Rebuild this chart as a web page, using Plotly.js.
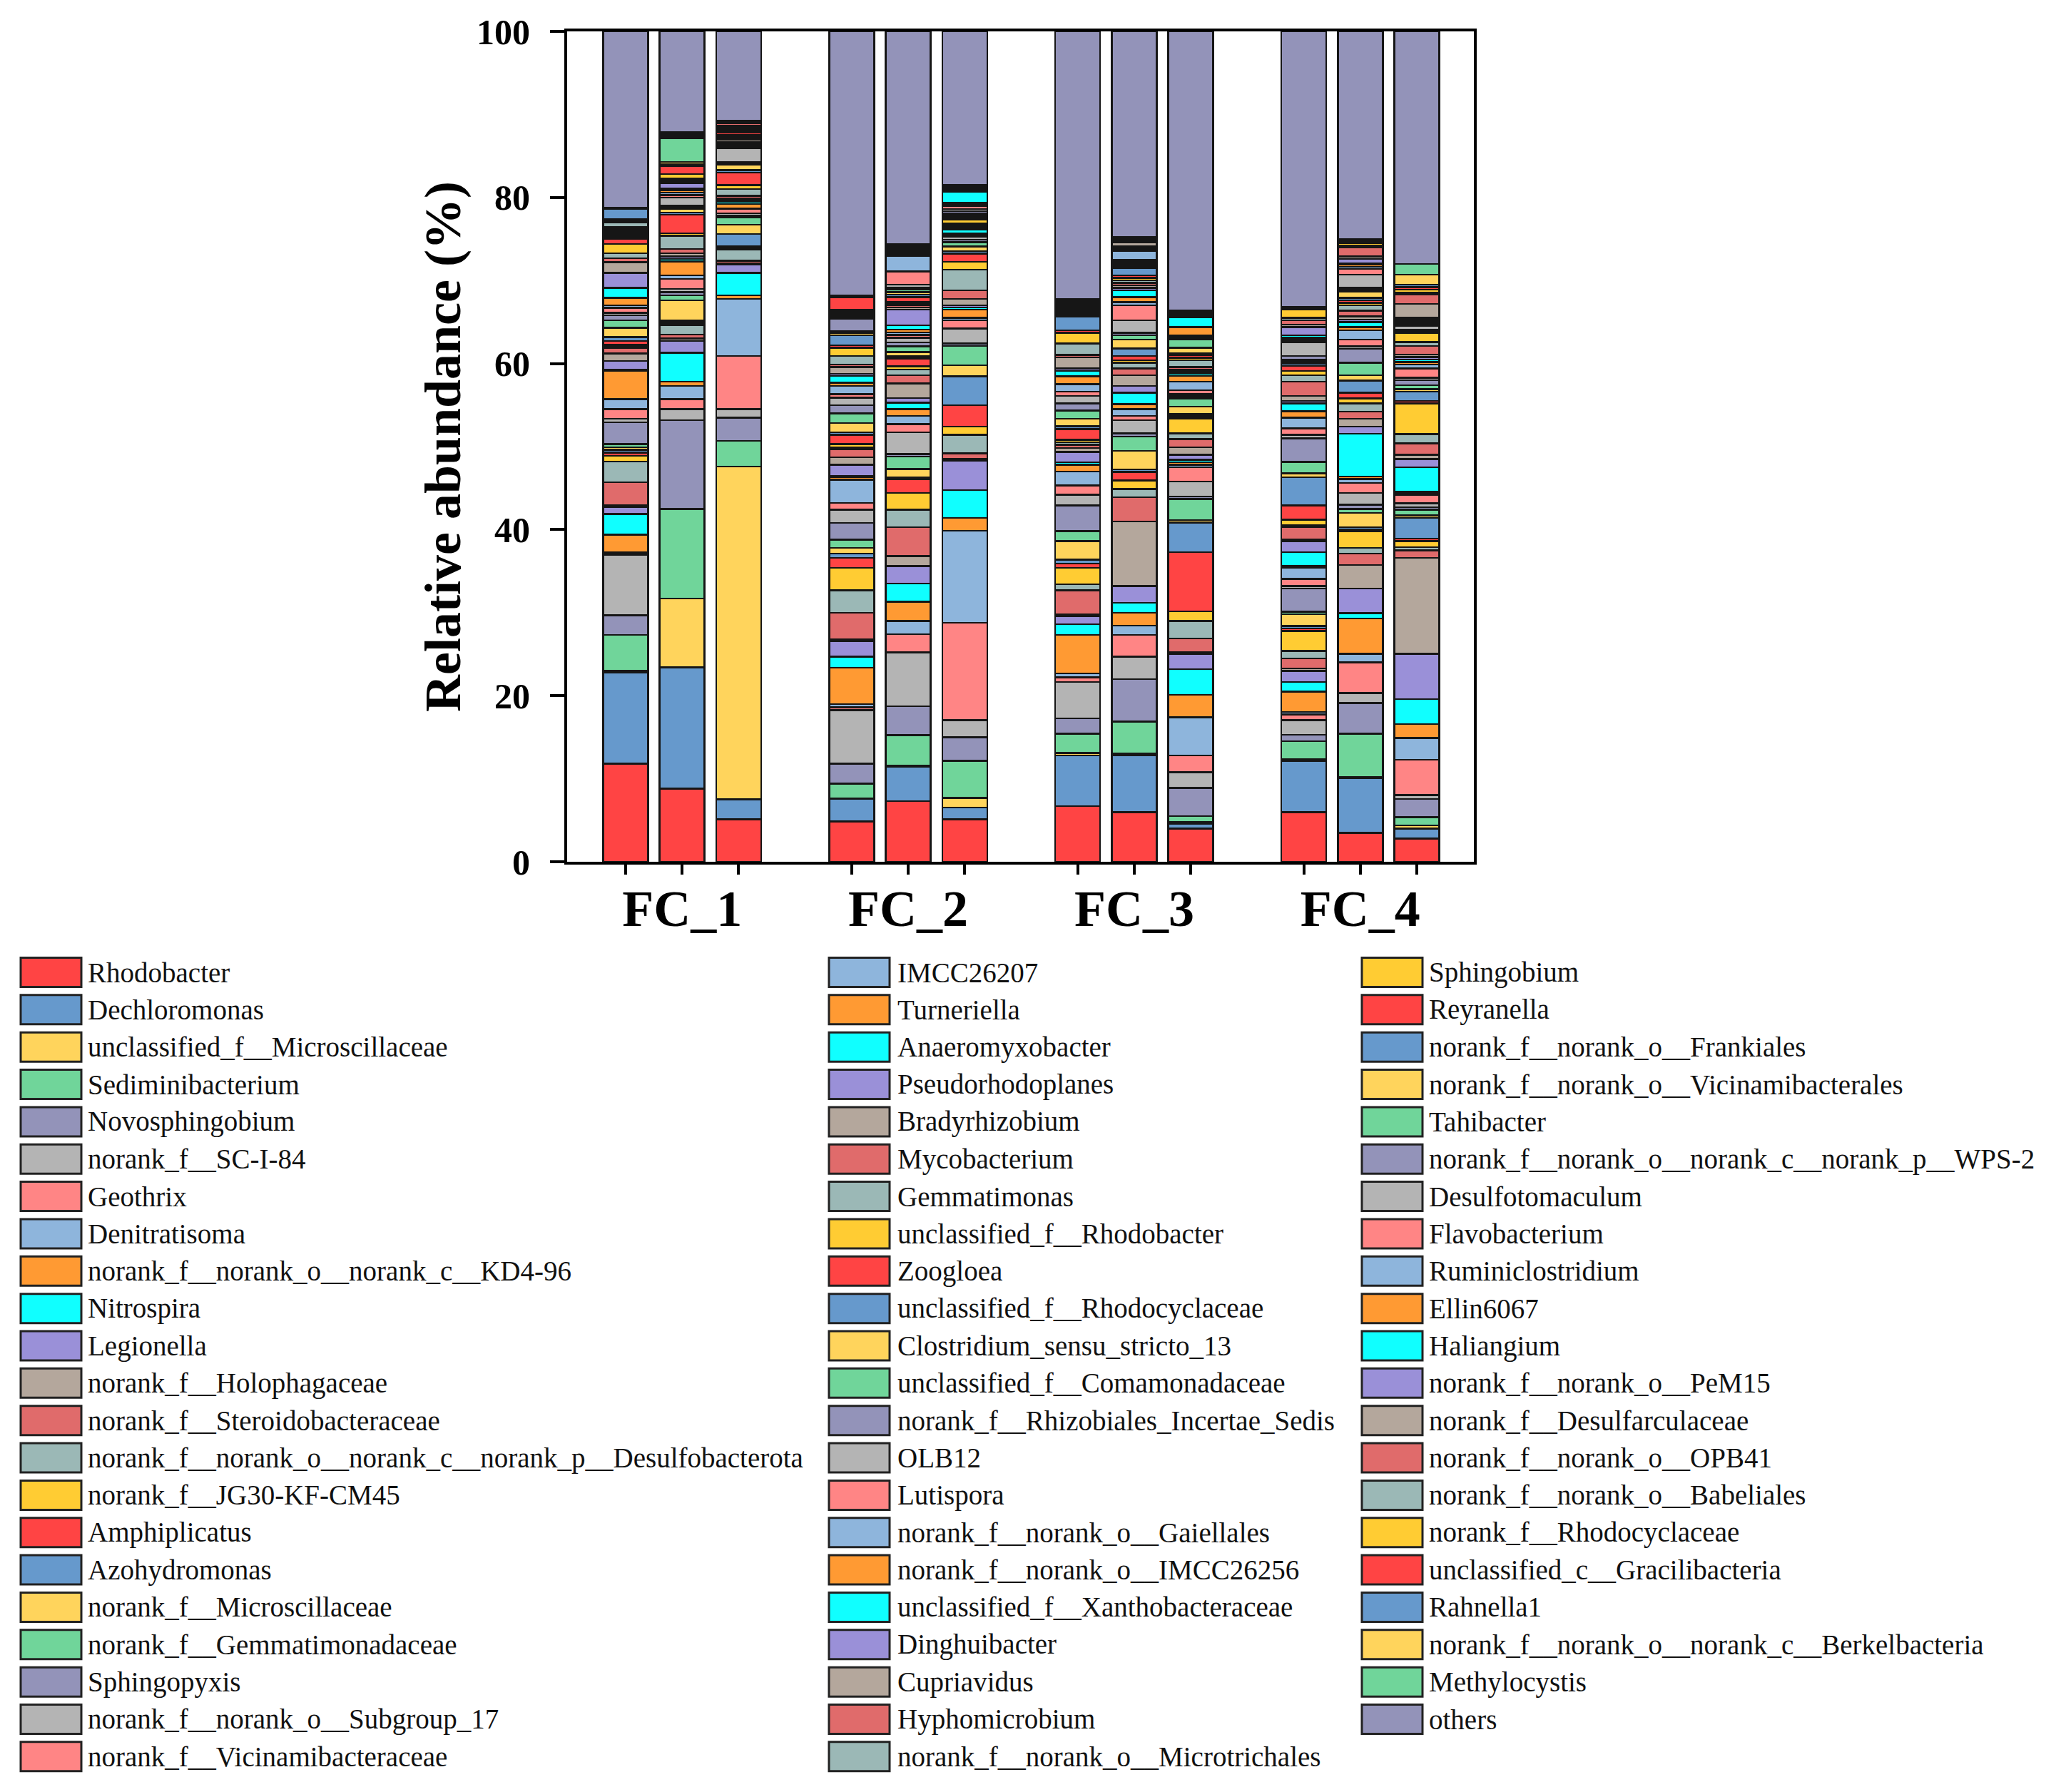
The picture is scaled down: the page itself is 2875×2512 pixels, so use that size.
<!DOCTYPE html>
<html>
<head>
<meta charset="utf-8">
<script src="https://cdn.plot.ly/plotly-3.0.1.min.js"></script>
<style>
html,body{margin:0;padding:0;background:#ffffff;}
#chart{width:2875px;height:2512px;}
</style>
</head>
<body>
<div id="chart"></div>
<script>
// ---------- genera (stack order bottom -> top, legend order) ----------
const genera = [
"Rhodobacter","Dechloromonas","unclassified_f__Microscillaceae","Sediminibacterium","Novosphingobium",
"norank_f__SC-I-84","Geothrix","Denitratisoma","norank_f__norank_o__norank_c__KD4-96","Nitrospira",
"Legionella","norank_f__Holophagaceae","norank_f__Steroidobacteraceae","norank_f__norank_o__norank_c__norank_p__Desulfobacterota","norank_f__JG30-KF-CM45",
"Amphiplicatus","Azohydromonas","norank_f__Microscillaceae","norank_f__Gemmatimonadaceae","Sphingopyxis",
"norank_f__norank_o__Subgroup_17","norank_f__Vicinamibacteraceae","IMCC26207","Turneriella","Anaeromyxobacter",
"Pseudorhodoplanes","Bradyrhizobium","Mycobacterium","Gemmatimonas","unclassified_f__Rhodobacter",
"Zoogloea","unclassified_f__Rhodocyclaceae","Clostridium_sensu_stricto_13","unclassified_f__Comamonadaceae","norank_f__Rhizobiales_Incertae_Sedis",
"OLB12","Lutispora","norank_f__norank_o__Gaiellales","norank_f__norank_o__IMCC26256","unclassified_f__Xanthobacteraceae",
"Dinghuibacter","Cupriavidus","Hyphomicrobium","norank_f__norank_o__Microtrichales","Sphingobium",
"Reyranella","norank_f__norank_o__Frankiales","norank_f__norank_o__Vicinamibacterales","Tahibacter","norank_f__norank_o__norank_c__norank_p__WPS-2",
"Desulfotomaculum","Flavobacterium","Ruminiclostridium","Ellin6067","Haliangium",
"norank_f__norank_o__PeM15","norank_f__Desulfarculaceae","norank_f__norank_o__OPB41","norank_f__norank_o__Babeliales","norank_f__Rhodocyclaceae",
"unclassified_c__Gracilibacteria","Rahnella1","norank_f__norank_o__norank_c__Berkelbacteria","Methylocystis","others"
];

// 15-colour cycle used by the figure
const palette = ["#FF4444","#6699CC","#FFD45C","#70D59A","#9393B9","#B4B4B4","#FF8585","#8EB5DC",
                 "#FF9A33","#10FFFF","#9A90D8","#B4A79C","#E06B6B","#9BB8B6","#FFCC33"];

const groupLabels = ["FC_1","FC_2","FC_3","FC_4"];

// ---------- relative abundance (%) per sample, in genera order ----------
const FC_1_1 = [11.8,11.0,0.2,4.3,2.4,7.3,0.15,0.15,2.1,2.5, 0.8,0.2,2.8,2.5,0.7,0.35,0.35,0.3,0.4,2.6,
 0.45,1.15,1.2,3.4,0.2,1.0,0.9,0.7,0.2,0.2, 0.4,0.5,1.1,0.9,0.6,0.3,0.6,0.3,0.9,1.2,
 1.8,1.3,0.5,0.6,1.1,0.6,0.15,0.1,0.15,0.1, 0.15,0.1,0.1,0.15,0.1,0.1,0.1,0.1,0.6,0.2, 0.2,1.2,0.1,0.1,21.2];
const FC_1_2 = [8.8,14.6,8.3,10.8,10.7,1.3,1.2,1.6,0.5,3.5, 1.4,0.3,0.5,1.1,0.2,0.2,0.2,2.4,0.6,0.4,
 0.4,1.2,0.4,1.7,0.3,0.3,0.4,0.5,1.6,0.3, 2.2,0.3,0.4,0.2,0.2,1.0,0.3,0.3,0.3,0.2,
 0.6,0.2,0.2,0.2,0.5,1.0,0.2,0.3,2.8,0.05, 0.05,0.05,0.05,0.05,0.05,0.05,0.05,0.05,0.05,0.05, 0.05,0.05,0.05,0.05,12.15];
const FC_1_3 = [5.1,2.4,40.1,3.1,2.8,1.0,6.4,6.9,0.4,2.7, 1.0,0.2,0.3,1.3,0.2,0.2,1.5,1.1,0.9,0.25,
 0.25,0.5,0.1,0.5,0.25,0.25,0.2,0.3,0.8,0.5, 1.5,0.3,0.65,0.2,0.15,1.6,0.2,0.15,0.15,0.15,
 0.15,0.3,0.15,0.15,0.2,0.3,0.1,0.1,0.1,0.1, 0.1,0.1,0.05,0.05,0.05,0.05,0.05,0.3,0.05,0.05, 0.05,0.05,0.05,0.05,10.75];
const FC_2_1 = [4.85,2.7,0.1,1.75,2.4,6.45,0.35,0.4,4.35,1.35, 1.9,0.2,3.2,2.7,2.7,1.2,0.5,0.7,1.0,2.0,
 1.6,0.8,2.8,0.3,0.15,1.35,0.9,1.0,0.2,0.4, 1.1,0.3,1.15,1.15,1.0,0.9,0.4,1.0,0.4,0.8,
 0.25,0.85,0.3,1.0,1.0,0.3,1.2,0.3,0.2,1.5, 0.1,0.1,0.1,0.1,0.1,0.1,0.15,0.15,0.1,0.1, 1.5,0.05,0.05,0.05,31.85];
const FC_2_2 = [7.3,4.15,0.1,3.7,3.5,6.45,2.2,1.6,2.3,2.2, 2.1,1.2,3.5,2.1,2.0,1.7,0.2,1.0,1.5,0.3,
 2.6,1.0,1.0,0.8,0.8,0.55,1.75,1.0,0.7,0.35, 0.95,0.25,0.55,0.65,0.5,0.55,0.35,0.3,0.35,0.5,
 1.9,0.25,0.25,0.2,0.2,0.6,0.3,0.3,0.3,0.2, 0.4,1.6,1.9,0.15,0.15,0.1,0.15,0.1,0.1,0.1, 0.15,0.15,0.1,0.15,25.6];
const FC_2_3 = [5.1,1.45,1.15,4.45,2.85,2.05,11.75,11.05,1.55,3.35, 3.55,0.2,0.7,2.2,1.0,2.6,3.45,1.35,2.3,0.3,
 1.8,1.0,0.3,1.0,0.25,0.25,0.8,1.0,2.5,0.95, 1.0,0.3,0.55,0.5,0.3,0.4,0.1,0.1,0.15,0.45,
 0.2,0.2,0.2,0.2,0.4,0.2,0.2,0.2,0.2,0.25, 0.25,0.4,0.15,0.2,1.3,0.1,0.1,0.1,0.1,0.1, 0.1,0.1,0.05,0.1,18.5];
const FC_3_1 = [6.7,6.1,0.3,2.3,1.85,4.4,0.55,0.5,4.6,1.3, 1.0,0.2,2.9,0.7,2.0,0.5,0.5,2.2,1.2,3.1,
 1.3,1.1,1.7,0.8,0.3,1.25,0.5,0.35,0.3,0.3, 1.3,0.35,0.9,1.0,0.85,0.9,0.5,0.9,0.95,0.65,
 0.3,1.35,0.3,1.35,1.3,0.3,1.7,0.25,0.25,0.1, 0.1,0.1,0.1,0.1,0.1,0.1,0.2,0.2,0.1,0.1, 0.1,0.1,0.05,0.05,32.2];
const FC_3_2 = [5.95,6.85,0.2,3.9,5.1,2.7,2.6,1.15,1.55,1.2, 2.0,7.8,2.9,1.0,1.0,1.05,0.3,2.25,1.7,0.4,
 1.6,0.5,0.8,0.6,1.4,0.8,1.3,0.8,0.7,0.3, 0.5,0.9,1.1,0.5,0.3,1.5,1.8,0.4,0.6,0.8,
 0.3,0.3,0.3,0.3,0.3,0.3,0.9,0.25,0.2,0.2, 0.15,0.2,1.1,0.2,0.15,0.15,0.5,0.1,0.1,0.1, 0.1,0.1,0.05,0.05,24.8];
const FC_3_3 = [4.0,0.6,0.2,0.7,3.4,1.9,2.0,4.6,2.7,3.1, 1.8,0.2,1.7,2.1,1.15,7.15,3.55,0.3,2.55,0.3,
 1.8,1.7,0.3,0.3,0.3,0.6,0.9,1.0,0.7,1.8, 0.25,0.25,0.9,1.0,0.25,0.25,0.5,1.0,0.7,0.3,
 0.25,0.25,0.3,0.8,0.3,0.3,0.2,0.7,1.0,0.15, 0.1,0.15,0.1,1.0,1.2,0.1,0.1,0.1,0.05,0.1, 0.1,0.1,0.05,0.05,33.65];
const FC_4_1 = [5.95,6.2,0.2,2.15,0.8,1.75,0.7,0.3,2.45,1.15, 1.35,0.3,1.2,0.9,2.4,0.3,0.3,1.4,0.3,2.8,
 0.3,0.85,1.35,0.2,1.7,1.3,0.25,1.45,0.2,0.7, 1.7,3.4,0.5,1.35,2.85,0.4,0.8,1.3,0.75,0.95,
 0.3,0.6,1.7,0.8,0.5,0.6,0.3,0.25,0.25,0.4, 1.65,0.2,0.2,0.2,0.25,1.0,0.3,0.5,0.3,1.0, 0.1,0.1,0.05,0.05,33.2];
const FC_4_2 = [3.5,6.6,0.1,5.2,3.7,1.2,3.7,1.05,4.25,0.65, 2.95,2.85,1.35,0.7,2.0,0.25,0.25,1.7,0.5,0.5,
 1.4,1.2,0.5,0.3,5.15,0.85,0.95,0.85,1.0,0.6, 0.7,1.45,0.65,1.5,1.65,0.3,0.85,1.1,0.4,0.6,
 0.3,0.4,0.65,0.65,0.3,0.3,0.3,0.75,0.2,0.25, 1.6,0.7,0.25,0.25,0.2,0.5,0.3,1.1,0.2,0.3, 0.15,0.15,0.1,0.1,25.0];
const FC_4_3 = [2.8,1.2,0.4,0.95,2.2,0.5,4.25,2.6,1.7,3.0, 5.45,11.55,0.9,0.4,0.7,0.3,2.5,0.3,0.7,0.3,
 0.45,1.05,0.2,0.2,2.9,1.0,0.5,1.4,1.1,3.7, 0.3,1.1,0.3,0.5,0.6,0.3,1.1,0.5,0.3,0.3,
 0.3,0.3,1.0,0.5,1.1,0.1,0.1,0.1,0.05,0.05, 0.4,0.2,0.2,0.2,0.2,0.2,1.7,1.1,0.2,0.4, 0.3,0.3,1.2,1.3,28.0];

// ---------- category slots (one empty slot between groups) ----------
const sampleIds = ["FC_1_1","FC_1_2","FC_1_3","FC_2_1","FC_2_2","FC_2_3",
                   "FC_3_1","FC_3_2","FC_3_3","FC_4_1","FC_4_2","FC_4_3"];
const slots = ["FC_1_1","FC_1_2","FC_1_3","gap_1","FC_2_1","FC_2_2","FC_2_3","gap_2",
               "FC_3_1","FC_3_2","FC_3_3","gap_3","FC_4_1","FC_4_2","FC_4_3"];
const sampleTable = {FC_1_1,FC_1_2,FC_1_3,FC_2_1,FC_2_2,FC_2_3,FC_3_1,FC_3_2,FC_3_3,FC_4_1,FC_4_2,FC_4_3};
const tickText = sampleIds.map((s, k) => (k % 3 === 1) ? groupLabels[Math.floor(k / 3)] : "");

const traces = genera.map((name, i) => ({
  type: "bar",
  name: name,
  x: slots,
  y: slots.map(s => sampleTable[s] ? sampleTable[s][i] : null),
  marker: {color: palette[i % palette.length], line: {color: "#161616", width: 2.5}},
  showlegend: false,
  hovertemplate: name + ": %{y}%<extra></extra>"
}));

// ---------- layout geometry (pixels) ----------
const W = 2875, H = 2512;
const plotL = 795, plotR = 2066, plotT = 44, plotB = 1208;
const PX = px => (px - plotL) / (plotR - plotL);
const PY = py => (plotB - py) / (plotB - plotT);

// legend built as swatches + text in three columns
const colSwatchX = [29, 1162, 1909];
const colTextX = [121, 1256, 2001];
const rowY0 = 1363, rowPitch = 52.35, swW = 85, swH = 41;
const shapes = [], annotations = [];
genera.forEach((name, i) => {
  const c = i < 22 ? 0 : (i < 44 ? 1 : 2);
  const r = i - c * 22;
  const cy = rowY0 + r * rowPitch;
  shapes.push({
    type: "rect", xref: "paper", yref: "paper",
    x0: PX(colSwatchX[c]), x1: PX(colSwatchX[c] + swW),
    y0: PY(cy + swH / 2), y1: PY(cy - swH / 2),
    fillcolor: palette[i % palette.length],
    line: {color: "#222222", width: 3}
  });
  annotations.push({
    xref: "paper", yref: "paper", x: PX(colTextX[c]), y: PY(cy),
    xanchor: "left", yanchor: "middle", showarrow: false, text: name,
    font: {family: "Liberation Serif", size: 39, color: "#111111"}
  });
});

const layout = {
  width: W, height: H,
  paper_bgcolor: "#ffffff", plot_bgcolor: "#ffffff",
  margin: {l: plotL, r: W - plotR, t: plotT, b: H - plotB, autoexpand: false},
  barmode: "stack", bargap: 0.205,
  showlegend: false,
  font: {family: "Liberation Serif", color: "#000000"},
  xaxis: {
    type: "category", categoryorder: "array", categoryarray: slots,
    range: [-1.035, 15.01],
    tickmode: "array", tickvals: sampleIds, ticktext: tickText,
    ticks: "outside", ticklen: 14, tickwidth: 4, tickcolor: "#000000",
    ticklabelstandoff: -14,
    showline: true, linewidth: 4, linecolor: "#000000", mirror: true,
    showgrid: false, zeroline: false,
    tickfont: {family: "Liberation Serif", size: 72, weight: "bold", color: "#000000"}
  },
  yaxis: {
    range: [0, 100],
    tickmode: "array", tickvals: [0, 20, 40, 60, 80, 100],
    ticks: "outside", ticklen: 20, tickwidth: 4, tickcolor: "#000000",
    ticklabelstandoff: 18,
    showline: true, linewidth: 4, linecolor: "#000000", mirror: true,
    showgrid: false, zeroline: false,
    tickfont: {family: "Liberation Serif", size: 50, weight: "bold", color: "#000000"},
    title: {text: "Relative abundance (%)", standoff: 0,
            font: {family: "Liberation Serif", size: 72, weight: "bold", color: "#000000"}}
  },
  shapes: shapes,
  annotations: annotations
};

Plotly.newPlot("chart", traces, layout, {staticPlot: true, displayModeBar: false});
</script>
</body>
</html>
